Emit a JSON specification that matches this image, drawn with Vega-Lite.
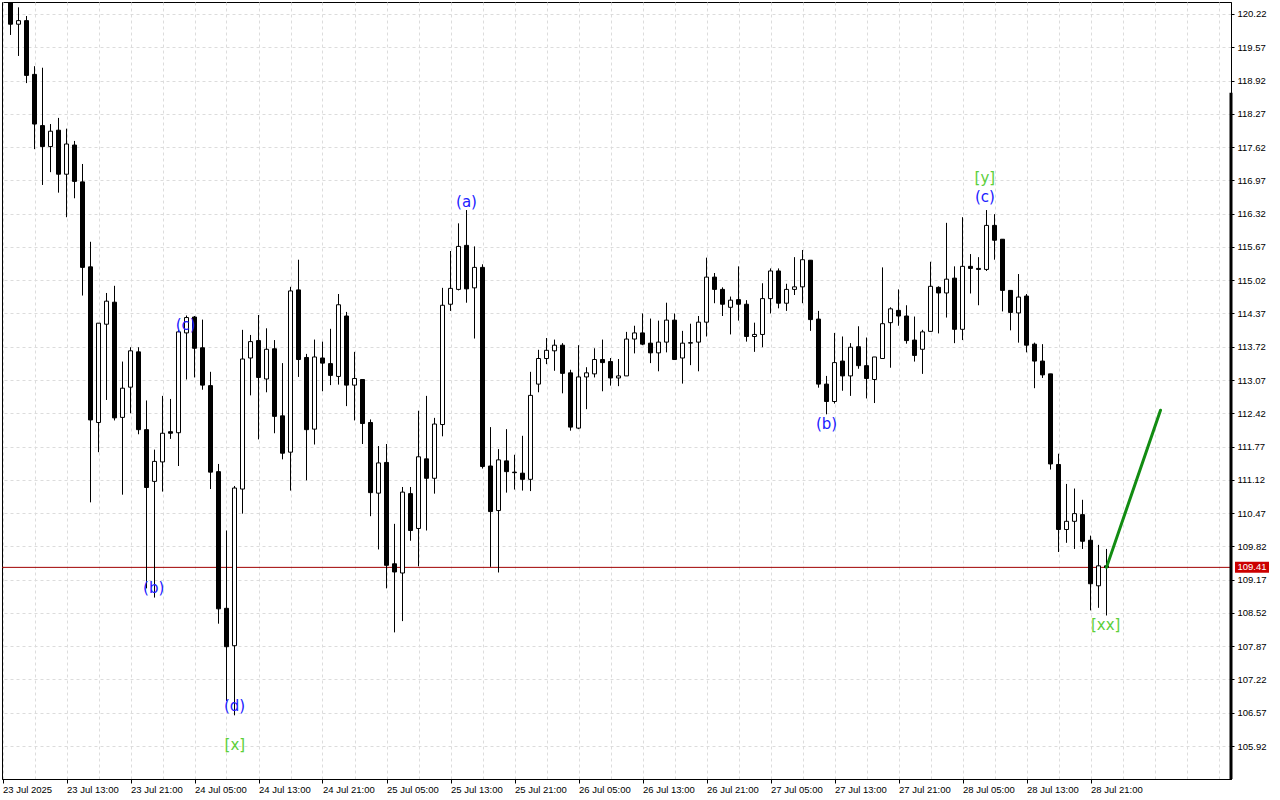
{
"$schema": "https://vega.github.io/schema/vega-lite/v6.json",
"width": 1229,
"height": 777,
"autosize": {"type": "none"},
"padding": {"left": 2, "top": 2, "right": 49, "bottom": 21},
"background": "#ffffff",
"config": {
  "view": {"stroke": "#000000", "strokeWidth": 1},
  "axis": {"labelFont": "Liberation Sans", "labelFontSize": 9.5, "labelColor": "#000000", "domainColor": "#000000", "tickColor": "#000000", "title": null, "labelOverlap": false, "labelBound": false},
  "scale": {"continuousPadding": 0}
},
"datasets": {
  "candles": [
    {"t": "2025-07-23T06:00:00Z", "o": 120.62, "h": 120.75, "l": 119.81, "c": 120.02},
    {"t": "2025-07-23T07:00:00Z", "o": 120.02, "h": 120.35, "l": 119.40, "c": 120.09},
    {"t": "2025-07-23T08:00:00Z", "o": 120.09, "h": 120.18, "l": 118.87, "c": 119.02},
    {"t": "2025-07-23T09:00:00Z", "o": 119.04, "h": 119.20, "l": 117.58, "c": 118.07},
    {"t": "2025-07-23T10:00:00Z", "o": 118.04, "h": 119.17, "l": 116.88, "c": 117.63},
    {"t": "2025-07-23T11:00:00Z", "o": 117.63, "h": 118.07, "l": 117.13, "c": 117.93},
    {"t": "2025-07-23T12:00:00Z", "o": 117.95, "h": 118.19, "l": 116.73, "c": 117.09},
    {"t": "2025-07-23T13:00:00Z", "o": 117.09, "h": 117.98, "l": 116.25, "c": 117.68},
    {"t": "2025-07-23T14:00:00Z", "o": 117.66, "h": 117.74, "l": 116.62, "c": 116.95},
    {"t": "2025-07-23T15:00:00Z", "o": 116.94, "h": 117.29, "l": 114.72, "c": 115.27},
    {"t": "2025-07-23T16:00:00Z", "o": 115.28, "h": 115.77, "l": 110.68, "c": 112.29},
    {"t": "2025-07-23T17:00:00Z", "o": 112.24, "h": 114.18, "l": 111.66, "c": 114.18},
    {"t": "2025-07-23T18:00:00Z", "o": 114.16, "h": 114.77, "l": 112.68, "c": 114.61},
    {"t": "2025-07-23T19:00:00Z", "o": 114.59, "h": 114.91, "l": 112.28, "c": 112.33},
    {"t": "2025-07-23T20:00:00Z", "o": 112.34, "h": 113.43, "l": 110.83, "c": 112.91},
    {"t": "2025-07-23T21:00:00Z", "o": 112.93, "h": 113.71, "l": 112.42, "c": 113.64},
    {"t": "2025-07-23T22:00:00Z", "o": 113.62, "h": 113.71, "l": 112.01, "c": 112.10},
    {"t": "2025-07-23T23:00:00Z", "o": 112.10, "h": 112.67, "l": 109.00, "c": 110.97},
    {"t": "2025-07-24T00:00:00Z", "o": 111.09, "h": 111.71, "l": 108.82, "c": 111.48},
    {"t": "2025-07-24T01:00:00Z", "o": 111.47, "h": 112.76, "l": 110.89, "c": 112.03},
    {"t": "2025-07-24T02:00:00Z", "o": 112.06, "h": 112.70, "l": 111.92, "c": 112.03},
    {"t": "2025-07-24T03:00:00Z", "o": 112.04, "h": 114.05, "l": 111.39, "c": 114.01},
    {"t": "2025-07-24T04:00:00Z", "o": 113.99, "h": 114.33, "l": 113.08, "c": 114.29},
    {"t": "2025-07-24T05:00:00Z", "o": 114.30, "h": 114.32, "l": 113.12, "c": 113.69},
    {"t": "2025-07-24T06:00:00Z", "o": 113.70, "h": 114.25, "l": 112.88, "c": 112.97},
    {"t": "2025-07-24T07:00:00Z", "o": 112.96, "h": 113.23, "l": 110.94, "c": 111.27},
    {"t": "2025-07-24T08:00:00Z", "o": 111.28, "h": 111.43, "l": 108.31, "c": 108.60},
    {"t": "2025-07-24T09:00:00Z", "o": 108.61, "h": 110.13, "l": 106.80, "c": 107.86},
    {"t": "2025-07-24T10:00:00Z", "o": 107.88, "h": 111.00, "l": 106.52, "c": 110.96},
    {"t": "2025-07-24T11:00:00Z", "o": 110.94, "h": 114.05, "l": 110.46, "c": 113.48},
    {"t": "2025-07-24T12:00:00Z", "o": 113.50, "h": 113.95, "l": 112.77, "c": 113.82},
    {"t": "2025-07-24T13:00:00Z", "o": 113.84, "h": 114.34, "l": 111.91, "c": 113.12},
    {"t": "2025-07-24T14:00:00Z", "o": 113.09, "h": 114.08, "l": 112.83, "c": 113.67},
    {"t": "2025-07-24T15:00:00Z", "o": 113.68, "h": 113.85, "l": 112.03, "c": 112.36},
    {"t": "2025-07-24T16:00:00Z", "o": 112.37, "h": 113.40, "l": 111.52, "c": 111.64},
    {"t": "2025-07-24T17:00:00Z", "o": 111.66, "h": 114.89, "l": 110.91, "c": 114.81},
    {"t": "2025-07-24T18:00:00Z", "o": 114.83, "h": 115.42, "l": 113.13, "c": 113.47},
    {"t": "2025-07-24T19:00:00Z", "o": 113.51, "h": 113.58, "l": 111.11, "c": 112.10},
    {"t": "2025-07-24T20:00:00Z", "o": 112.11, "h": 113.86, "l": 111.81, "c": 113.52},
    {"t": "2025-07-24T21:00:00Z", "o": 113.50, "h": 113.82, "l": 112.85, "c": 113.40},
    {"t": "2025-07-24T22:00:00Z", "o": 113.39, "h": 114.07, "l": 112.97, "c": 113.16},
    {"t": "2025-07-24T23:00:00Z", "o": 113.14, "h": 114.75, "l": 112.98, "c": 114.54},
    {"t": "2025-07-25T00:00:00Z", "o": 114.32, "h": 114.40, "l": 112.56, "c": 112.97},
    {"t": "2025-07-25T01:00:00Z", "o": 112.97, "h": 113.62, "l": 112.28, "c": 113.10},
    {"t": "2025-07-25T02:00:00Z", "o": 113.08, "h": 113.08, "l": 111.82, "c": 112.22},
    {"t": "2025-07-25T03:00:00Z", "o": 112.24, "h": 112.30, "l": 110.41, "c": 110.87},
    {"t": "2025-07-25T04:00:00Z", "o": 110.86, "h": 111.78, "l": 109.76, "c": 111.45},
    {"t": "2025-07-25T05:00:00Z", "o": 111.46, "h": 111.82, "l": 109.00, "c": 109.45},
    {"t": "2025-07-25T06:00:00Z", "o": 109.48, "h": 110.26, "l": 108.14, "c": 109.32},
    {"t": "2025-07-25T07:00:00Z", "o": 109.30, "h": 110.98, "l": 108.36, "c": 110.88},
    {"t": "2025-07-25T08:00:00Z", "o": 110.85, "h": 110.98, "l": 109.93, "c": 110.13},
    {"t": "2025-07-25T09:00:00Z", "o": 110.17, "h": 112.47, "l": 109.43, "c": 111.57},
    {"t": "2025-07-25T10:00:00Z", "o": 111.53, "h": 112.76, "l": 110.13, "c": 111.15},
    {"t": "2025-07-25T11:00:00Z", "o": 111.15, "h": 112.33, "l": 110.85, "c": 112.21},
    {"t": "2025-07-25T12:00:00Z", "o": 112.20, "h": 114.87, "l": 111.97, "c": 114.53},
    {"t": "2025-07-25T13:00:00Z", "o": 114.55, "h": 115.59, "l": 114.42, "c": 114.86},
    {"t": "2025-07-25T14:00:00Z", "o": 114.84, "h": 116.13, "l": 114.82, "c": 115.68},
    {"t": "2025-07-25T15:00:00Z", "o": 115.70, "h": 116.39, "l": 114.58, "c": 114.85},
    {"t": "2025-07-25T16:00:00Z", "o": 114.87, "h": 115.68, "l": 113.88, "c": 115.27},
    {"t": "2025-07-25T17:00:00Z", "o": 115.27, "h": 115.33, "l": 111.34, "c": 111.38},
    {"t": "2025-07-25T18:00:00Z", "o": 111.39, "h": 112.15, "l": 109.42, "c": 110.50},
    {"t": "2025-07-25T19:00:00Z", "o": 110.52, "h": 111.72, "l": 109.31, "c": 111.51},
    {"t": "2025-07-25T20:00:00Z", "o": 111.49, "h": 112.11, "l": 110.87, "c": 111.28},
    {"t": "2025-07-25T21:00:00Z", "o": 111.27, "h": 111.61, "l": 110.93, "c": 111.26},
    {"t": "2025-07-25T22:00:00Z", "o": 111.25, "h": 111.98, "l": 110.91, "c": 111.13},
    {"t": "2025-07-25T23:00:00Z", "o": 111.13, "h": 113.23, "l": 110.90, "c": 112.77},
    {"t": "2025-07-26T00:00:00Z", "o": 112.99, "h": 113.66, "l": 112.83, "c": 113.49},
    {"t": "2025-07-26T01:00:00Z", "o": 113.49, "h": 113.89, "l": 113.38, "c": 113.65},
    {"t": "2025-07-26T02:00:00Z", "o": 113.64, "h": 113.86, "l": 113.25, "c": 113.75},
    {"t": "2025-07-26T03:00:00Z", "o": 113.75, "h": 113.79, "l": 112.81, "c": 113.20},
    {"t": "2025-07-26T04:00:00Z", "o": 113.21, "h": 113.27, "l": 112.08, "c": 112.15},
    {"t": "2025-07-26T05:00:00Z", "o": 112.13, "h": 113.75, "l": 112.11, "c": 113.13},
    {"t": "2025-07-26T06:00:00Z", "o": 113.13, "h": 113.32, "l": 112.50, "c": 113.21},
    {"t": "2025-07-26T07:00:00Z", "o": 113.19, "h": 113.69, "l": 113.12, "c": 113.47},
    {"t": "2025-07-26T08:00:00Z", "o": 113.47, "h": 113.86, "l": 112.85, "c": 113.41},
    {"t": "2025-07-26T09:00:00Z", "o": 113.43, "h": 113.50, "l": 112.96, "c": 113.11},
    {"t": "2025-07-26T10:00:00Z", "o": 113.11, "h": 113.48, "l": 112.95, "c": 113.15},
    {"t": "2025-07-26T11:00:00Z", "o": 113.15, "h": 114.01, "l": 113.15, "c": 113.87},
    {"t": "2025-07-26T12:00:00Z", "o": 113.87, "h": 114.13, "l": 113.59, "c": 113.99},
    {"t": "2025-07-26T13:00:00Z", "o": 113.99, "h": 114.37, "l": 113.75, "c": 113.77},
    {"t": "2025-07-26T14:00:00Z", "o": 113.79, "h": 114.27, "l": 113.40, "c": 113.60},
    {"t": "2025-07-26T15:00:00Z", "o": 113.60, "h": 114.23, "l": 113.24, "c": 113.81},
    {"t": "2025-07-26T16:00:00Z", "o": 113.81, "h": 114.58, "l": 113.61, "c": 114.24},
    {"t": "2025-07-26T17:00:00Z", "o": 114.24, "h": 114.37, "l": 113.47, "c": 113.47},
    {"t": "2025-07-26T18:00:00Z", "o": 113.50, "h": 114.03, "l": 113.00, "c": 113.79},
    {"t": "2025-07-26T19:00:00Z", "o": 113.79, "h": 114.17, "l": 113.36, "c": 113.80},
    {"t": "2025-07-26T20:00:00Z", "o": 113.81, "h": 114.32, "l": 113.24, "c": 114.20},
    {"t": "2025-07-26T21:00:00Z", "o": 114.20, "h": 115.46, "l": 113.92, "c": 115.08},
    {"t": "2025-07-26T22:00:00Z", "o": 115.08, "h": 115.16, "l": 114.57, "c": 114.84},
    {"t": "2025-07-26T23:00:00Z", "o": 114.84, "h": 114.88, "l": 114.32, "c": 114.55},
    {"t": "2025-07-27T00:00:00Z", "o": 114.49, "h": 114.70, "l": 113.96, "c": 114.63},
    {"t": "2025-07-27T01:00:00Z", "o": 114.64, "h": 115.29, "l": 114.23, "c": 114.55},
    {"t": "2025-07-27T02:00:00Z", "o": 114.55, "h": 114.63, "l": 113.82, "c": 113.92},
    {"t": "2025-07-27T03:00:00Z", "o": 113.92, "h": 114.19, "l": 113.62, "c": 113.96},
    {"t": "2025-07-27T04:00:00Z", "o": 113.96, "h": 114.96, "l": 113.71, "c": 114.66},
    {"t": "2025-07-27T05:00:00Z", "o": 114.66, "h": 115.25, "l": 114.37, "c": 115.20},
    {"t": "2025-07-27T06:00:00Z", "o": 115.20, "h": 115.25, "l": 114.47, "c": 114.57},
    {"t": "2025-07-27T07:00:00Z", "o": 114.57, "h": 114.95, "l": 114.42, "c": 114.84},
    {"t": "2025-07-27T08:00:00Z", "o": 114.84, "h": 115.47, "l": 114.73, "c": 114.89},
    {"t": "2025-07-27T09:00:00Z", "o": 114.89, "h": 115.61, "l": 114.57, "c": 115.42},
    {"t": "2025-07-27T10:00:00Z", "o": 115.41, "h": 115.41, "l": 114.03, "c": 114.25},
    {"t": "2025-07-27T11:00:00Z", "o": 114.26, "h": 114.42, "l": 112.92, "c": 112.99},
    {"t": "2025-07-27T12:00:00Z", "o": 112.99, "h": 113.15, "l": 112.40, "c": 112.65},
    {"t": "2025-07-27T13:00:00Z", "o": 112.65, "h": 113.99, "l": 112.61, "c": 113.41},
    {"t": "2025-07-27T14:00:00Z", "o": 113.44, "h": 113.92, "l": 112.86, "c": 113.15},
    {"t": "2025-07-27T15:00:00Z", "o": 113.15, "h": 113.79, "l": 112.76, "c": 113.71},
    {"t": "2025-07-27T16:00:00Z", "o": 113.72, "h": 114.12, "l": 113.29, "c": 113.35},
    {"t": "2025-07-27T17:00:00Z", "o": 113.35, "h": 113.90, "l": 112.71, "c": 113.10},
    {"t": "2025-07-27T18:00:00Z", "o": 113.08, "h": 113.52, "l": 112.62, "c": 113.52},
    {"t": "2025-07-27T19:00:00Z", "o": 113.49, "h": 115.27, "l": 113.49, "c": 114.17},
    {"t": "2025-07-27T20:00:00Z", "o": 114.19, "h": 114.49, "l": 113.31, "c": 114.46},
    {"t": "2025-07-27T21:00:00Z", "o": 114.43, "h": 114.84, "l": 114.13, "c": 114.32},
    {"t": "2025-07-27T22:00:00Z", "o": 114.32, "h": 114.53, "l": 113.78, "c": 113.84},
    {"t": "2025-07-27T23:00:00Z", "o": 113.85, "h": 114.31, "l": 113.43, "c": 113.55},
    {"t": "2025-07-28T00:00:00Z", "o": 113.67, "h": 114.05, "l": 113.19, "c": 114.01},
    {"t": "2025-07-28T01:00:00Z", "o": 114.02, "h": 115.38, "l": 114.02, "c": 114.90},
    {"t": "2025-07-28T02:00:00Z", "o": 114.88, "h": 114.90, "l": 113.98, "c": 114.77},
    {"t": "2025-07-28T03:00:00Z", "o": 114.77, "h": 116.14, "l": 114.29, "c": 115.04},
    {"t": "2025-07-28T04:00:00Z", "o": 115.06, "h": 115.29, "l": 113.79, "c": 114.06},
    {"t": "2025-07-28T05:00:00Z", "o": 114.06, "h": 116.25, "l": 113.85, "c": 115.29},
    {"t": "2025-07-28T06:00:00Z", "o": 115.29, "h": 115.53, "l": 114.76, "c": 115.25},
    {"t": "2025-07-28T07:00:00Z", "o": 115.25, "h": 115.47, "l": 114.53, "c": 115.23},
    {"t": "2025-07-28T08:00:00Z", "o": 115.23, "h": 116.39, "l": 115.20, "c": 116.09},
    {"t": "2025-07-28T09:00:00Z", "o": 116.09, "h": 116.31, "l": 115.42, "c": 115.80},
    {"t": "2025-07-28T10:00:00Z", "o": 115.82, "h": 115.82, "l": 114.41, "c": 114.82},
    {"t": "2025-07-28T11:00:00Z", "o": 114.82, "h": 114.82, "l": 114.04, "c": 114.39},
    {"t": "2025-07-28T12:00:00Z", "o": 114.38, "h": 115.14, "l": 113.80, "c": 114.69},
    {"t": "2025-07-28T13:00:00Z", "o": 114.71, "h": 114.75, "l": 113.61, "c": 113.75},
    {"t": "2025-07-28T14:00:00Z", "o": 113.77, "h": 113.80, "l": 112.91, "c": 113.44},
    {"t": "2025-07-28T15:00:00Z", "o": 113.44, "h": 113.77, "l": 113.11, "c": 113.17},
    {"t": "2025-07-28T16:00:00Z", "o": 113.19, "h": 113.19, "l": 111.32, "c": 111.43},
    {"t": "2025-07-28T17:00:00Z", "o": 111.42, "h": 111.63, "l": 109.71, "c": 110.15},
    {"t": "2025-07-28T18:00:00Z", "o": 110.15, "h": 111.04, "l": 109.89, "c": 110.31},
    {"t": "2025-07-28T19:00:00Z", "o": 110.31, "h": 110.95, "l": 109.77, "c": 110.46},
    {"t": "2025-07-28T20:00:00Z", "o": 110.44, "h": 110.73, "l": 109.77, "c": 109.92},
    {"t": "2025-07-28T21:00:00Z", "o": 109.94, "h": 110.03, "l": 108.57, "c": 109.09},
    {"t": "2025-07-28T22:00:00Z", "o": 109.05, "h": 109.85, "l": 108.62, "c": 109.44},
    {"t": "2025-07-28T23:00:00Z", "o": 109.44, "h": 109.77, "l": 108.47, "c": 109.41}
  ],
  "labels": [
    {"t": "2025-07-23T23:54:00Z", "p": 109.01, "txt": "(b)", "degree": "minor"},
    {"t": "2025-07-24T03:54:00Z", "p": 114.14, "txt": "(c)", "degree": "minor"},
    {"t": "2025-07-24T10:00:00Z", "p": 106.70, "txt": "(d)", "degree": "minor"},
    {"t": "2025-07-24T10:03:00Z", "p": 105.94, "txt": "[x]", "degree": "major"},
    {"t": "2025-07-25T15:00:00Z", "p": 116.54, "txt": "(a)", "degree": "minor"},
    {"t": "2025-07-27T12:00:00Z", "p": 112.22, "txt": "(b)", "degree": "minor"},
    {"t": "2025-07-28T07:48:00Z", "p": 117.02, "txt": "[y]", "degree": "major"},
    {"t": "2025-07-28T07:48:00Z", "p": 116.65, "txt": "(c)", "degree": "minor"},
    {"t": "2025-07-28T22:54:00Z", "p": 108.29, "txt": "[xx]", "degree": "major"}
  ],
  "arrow": [
    {"t": "2025-07-28T23:00:00Z", "p": 109.41},
    {"t": "2025-07-29T05:45:00Z", "p": 112.48}
  ],
  "last": [
    {"price": 109.41}
  ]
},
"layer": [
  {
    "data": {"name": "last"},
    "mark": {"type": "rule", "color": "#a00000", "strokeWidth": 1},
    "encoding": {
      "y": {"field": "price", "type": "quantitative", "scale": {"domain": [105.276, 120.454], "zero": false, "nice": false, "padding": 0}}
    }
  },
  {
    "data": {"name": "candles"},
    "mark": {"type": "rule", "color": "#000000", "strokeWidth": 1, "clip": true},
    "encoding": {
      "x": {"field": "t", "type": "temporal", "scale": {"type": "utc", "domain": [1753246575000, 1753799625000], "nice": false, "padding": 0},
        "axis": {"values": [1753246800000, 1753261200000, 1753275600000, 1753290000000, 1753304400000, 1753318800000, 1753333200000, 1753347600000, 1753362000000, 1753376400000, 1753390800000, 1753405200000, 1753419600000, 1753434000000, 1753448400000, 1753462800000, 1753477200000, 1753491600000, 1753506000000, 1753520400000, 1753534800000, 1753549200000, 1753563600000, 1753578000000, 1753592400000, 1753606800000, 1753621200000, 1753635600000, 1753650000000, 1753664400000, 1753678800000, 1753693200000, 1753707600000, 1753722000000, 1753736400000, 1753750800000, 1753765200000, 1753779600000, 1753794000000],
          "tickCount": 200,
          "labelExpr": "time(datum.value) == 1753246800000 ? '23 Jul 2025' : ((time(datum.value) <= 1753736400000 && utchours(datum.value) % 8 == 5) ? utcFormat(datum.value, '%d %b %H:%M') : '')",
          "grid": true, "gridColor": "#dcdcdc", "gridDash": [3, 3], "gridWidth": 1,
          "tickSize": 4, "tickOpacity": {"condition": {"test": "time(datum.value) <= 1753736400000 && utchours(datum.value) % 8 == 5", "value": 1}, "value": 0},
          "labelAlign": "left", "labelBaseline": "top", "labelPadding": 1, "labelFlush": false, "labelOverlap": false, "labelBound": false, "domain": true}},
      "y": {"field": "l", "type": "quantitative", "scale": {"domain": [105.276, 120.454], "zero": false, "nice": false, "padding": 0},
        "axis": {"orient": "right", "values": [120.22, 119.57, 118.92, 118.27, 117.62, 116.97, 116.32, 115.67, 115.02, 114.37, 113.72, 113.07, 112.42, 111.77, 111.12, 110.47, 109.82, 109.17, 108.52, 107.87, 107.22, 106.57, 105.92],
          "tickCount": 200,
          "format": ".2f", "grid": true, "gridColor": "#dcdcdc", "gridDash": [3, 3], "gridWidth": 1, "tickSize": 3, "labelPadding": 3, "labelAlign": "left", "labelBaseline": "middle", "labelBound": false, "labelOverlap": false, "domain": true}},
      "y2": {"field": "h"}
    }
  },
  {
    "data": {"name": "candles"},
    "mark": {"type": "bar", "size": 4, "stroke": "#000000", "strokeWidth": 1, "clip": true},
    "encoding": {
      "x": {"field": "t", "type": "temporal", "scale": {"type": "utc", "domain": [1753246575000, 1753799625000], "nice": false, "padding": 0}},
      "y": {"field": "o", "type": "quantitative", "scale": {"domain": [105.276, 120.454], "zero": false, "nice": false, "padding": 0}},
      "y2": {"field": "c"},
      "fill": {"condition": {"test": "datum.c >= datum.o", "value": "#ffffff"}, "value": "#000000"}
    }
  },
  {
    "data": {"name": "arrow"},
    "mark": {"type": "line", "color": "#128c12", "strokeWidth": 3, "strokeCap": "round"},
    "encoding": {
      "x": {"field": "t", "type": "temporal", "scale": {"type": "utc", "domain": [1753246575000, 1753799625000], "nice": false, "padding": 0}},
      "y": {"field": "p", "type": "quantitative", "scale": {"domain": [105.276, 120.454], "zero": false, "nice": false, "padding": 0}}
    }
  },
  {
    "data": {"name": "labels"},
    "mark": {"type": "text", "font": "DejaVu Sans", "fontSize": 15, "align": "center", "baseline": "middle"},
    "encoding": {
      "x": {"field": "t", "type": "temporal", "scale": {"type": "utc", "domain": [1753246575000, 1753799625000], "nice": false, "padding": 0}},
      "y": {"field": "p", "type": "quantitative", "scale": {"domain": [105.276, 120.454], "zero": false, "nice": false, "padding": 0}},
      "text": {"field": "txt"},
      "color": {"field": "degree", "type": "nominal", "scale": {"domain": ["minor", "major"], "range": ["#2020ff", "#5ccf3a"]}, "legend": null}
    }
  },
  {
    "data": {"name": "last"},
    "mark": {"type": "rule", "color": "#000000", "strokeWidth": 3, "clip": false},
    "encoding": {
      "x": {"value": "width"},
      "y": {"datum": 118.68, "type": "quantitative"},
      "y2": {"value": "height"}
    }
  },
  {
    "data": {"name": "last"},
    "mark": {"type": "tick", "orient": "horizontal", "size": 34, "thickness": 11, "xOffset": 21, "color": "#cc0000", "opacity": 1, "clip": false},
    "encoding": {
      "x": {"value": "width"},
      "y": {"field": "price", "type": "quantitative"}
    }
  },
  {
    "data": {"name": "last"},
    "mark": {"type": "text", "color": "#ffffff", "font": "Liberation Sans", "fontSize": 9.5, "align": "center", "baseline": "middle", "dx": 21, "clip": false},
    "encoding": {
      "x": {"value": "width"},
      "y": {"field": "price", "type": "quantitative"},
      "text": {"field": "price", "type": "quantitative", "format": ".2f"}
    }
  }
]
}
